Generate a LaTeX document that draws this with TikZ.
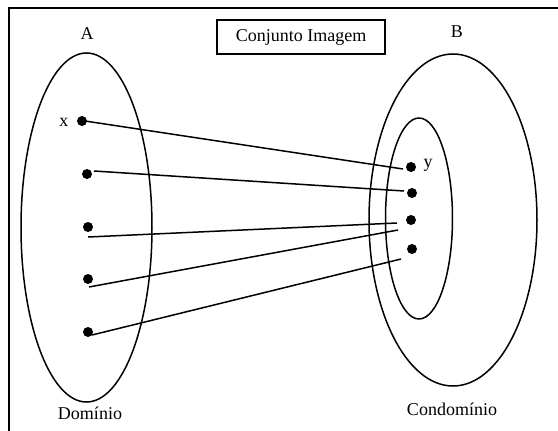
\documentclass[tikz,border=0pt]{standalone}
\usepackage{fontspec}
\setmainfont{Liberation Serif}
\usetikzlibrary{shapes.geometric}
\begin{document}
\begin{tikzpicture}[x=1pt,y=-1pt,
  ln/.style={line width=1.5pt},
  dot/.style={circle,fill=black,inner sep=0pt,minimum size=10pt},
  lbl/.style={font=\fontsize{18}{20}\selectfont,inner sep=0pt},
  conn/.style={line width=1.5pt}]
\useasboundingbox (0,0) rectangle (558,431);
% frame (left and top edges only)
\coordinate (fl) at (9,431);
\coordinate (fc) at (9,8);
\coordinate (fr) at (558,8);
\draw[line width=1.6pt] (fl) -- (fc) -- (fr);
% title box
\node[draw,line width=1.4pt,minimum width=168pt,minimum height=34pt,inner sep=0pt,font=\fontsize{18}{20}\selectfont] (title) at (301,37) {Conjunto Imagem};
% ellipses
\node[draw,ln,ellipse,inner sep=0pt,minimum width=131pt,minimum height=349pt] (EA) at (86.5,227.5) {};
\node[draw,ln,ellipse,inner sep=0pt,minimum width=168pt,minimum height=332pt] (EB) at (453,220) {};
\node[draw,ln,ellipse,inner sep=0pt,minimum width=67pt,minimum height=201pt] (EI) at (419,218.5) {};
% labels
\node[lbl] (lA) at (87,34) {A};
\node[lbl] (lB) at (457,32) {B};
\node[lbl] (lx) at (64,122) {x};
\node[lbl] (ly) at (428,165) {y};
\node[lbl] (dom) at (90,413) {Domínio};
\node[lbl] (cod) at (452,409) {Condomínio};
% dots
\node[dot] (a1) at (82,121) {};
\node[dot] (a2) at (87,174) {};
\node[dot] (a3) at (88,227) {};
\node[dot] (a4) at (88,279) {};
\node[dot] (a5) at (88,332) {};
\node[dot] (b1) at (411,167) {};
\node[dot] (b2) at (412,193) {};
\node[dot] (b3) at (411,220) {};
\node[dot] (b4) at (412,249) {};
% connector ends
\coordinate (s1) at (85,121);
\coordinate (e1) at (403,169);
\coordinate (s2) at (94,171);
\coordinate (e2) at (404,191);
\coordinate (s3) at (88,237);
\coordinate (e3) at (397,223);
\coordinate (s4) at (89,287);
\coordinate (e4) at (398,230);
\coordinate (s5) at (92,335);
\coordinate (e5) at (401,259);
\draw[conn] (s1) -- (e1);
\draw[conn] (s2) -- (e2);
\draw[conn] (s3) -- (e3);
\draw[conn] (s4) -- (e4);
\draw[conn] (s5) -- (e5);
\end{tikzpicture}
\end{document}
